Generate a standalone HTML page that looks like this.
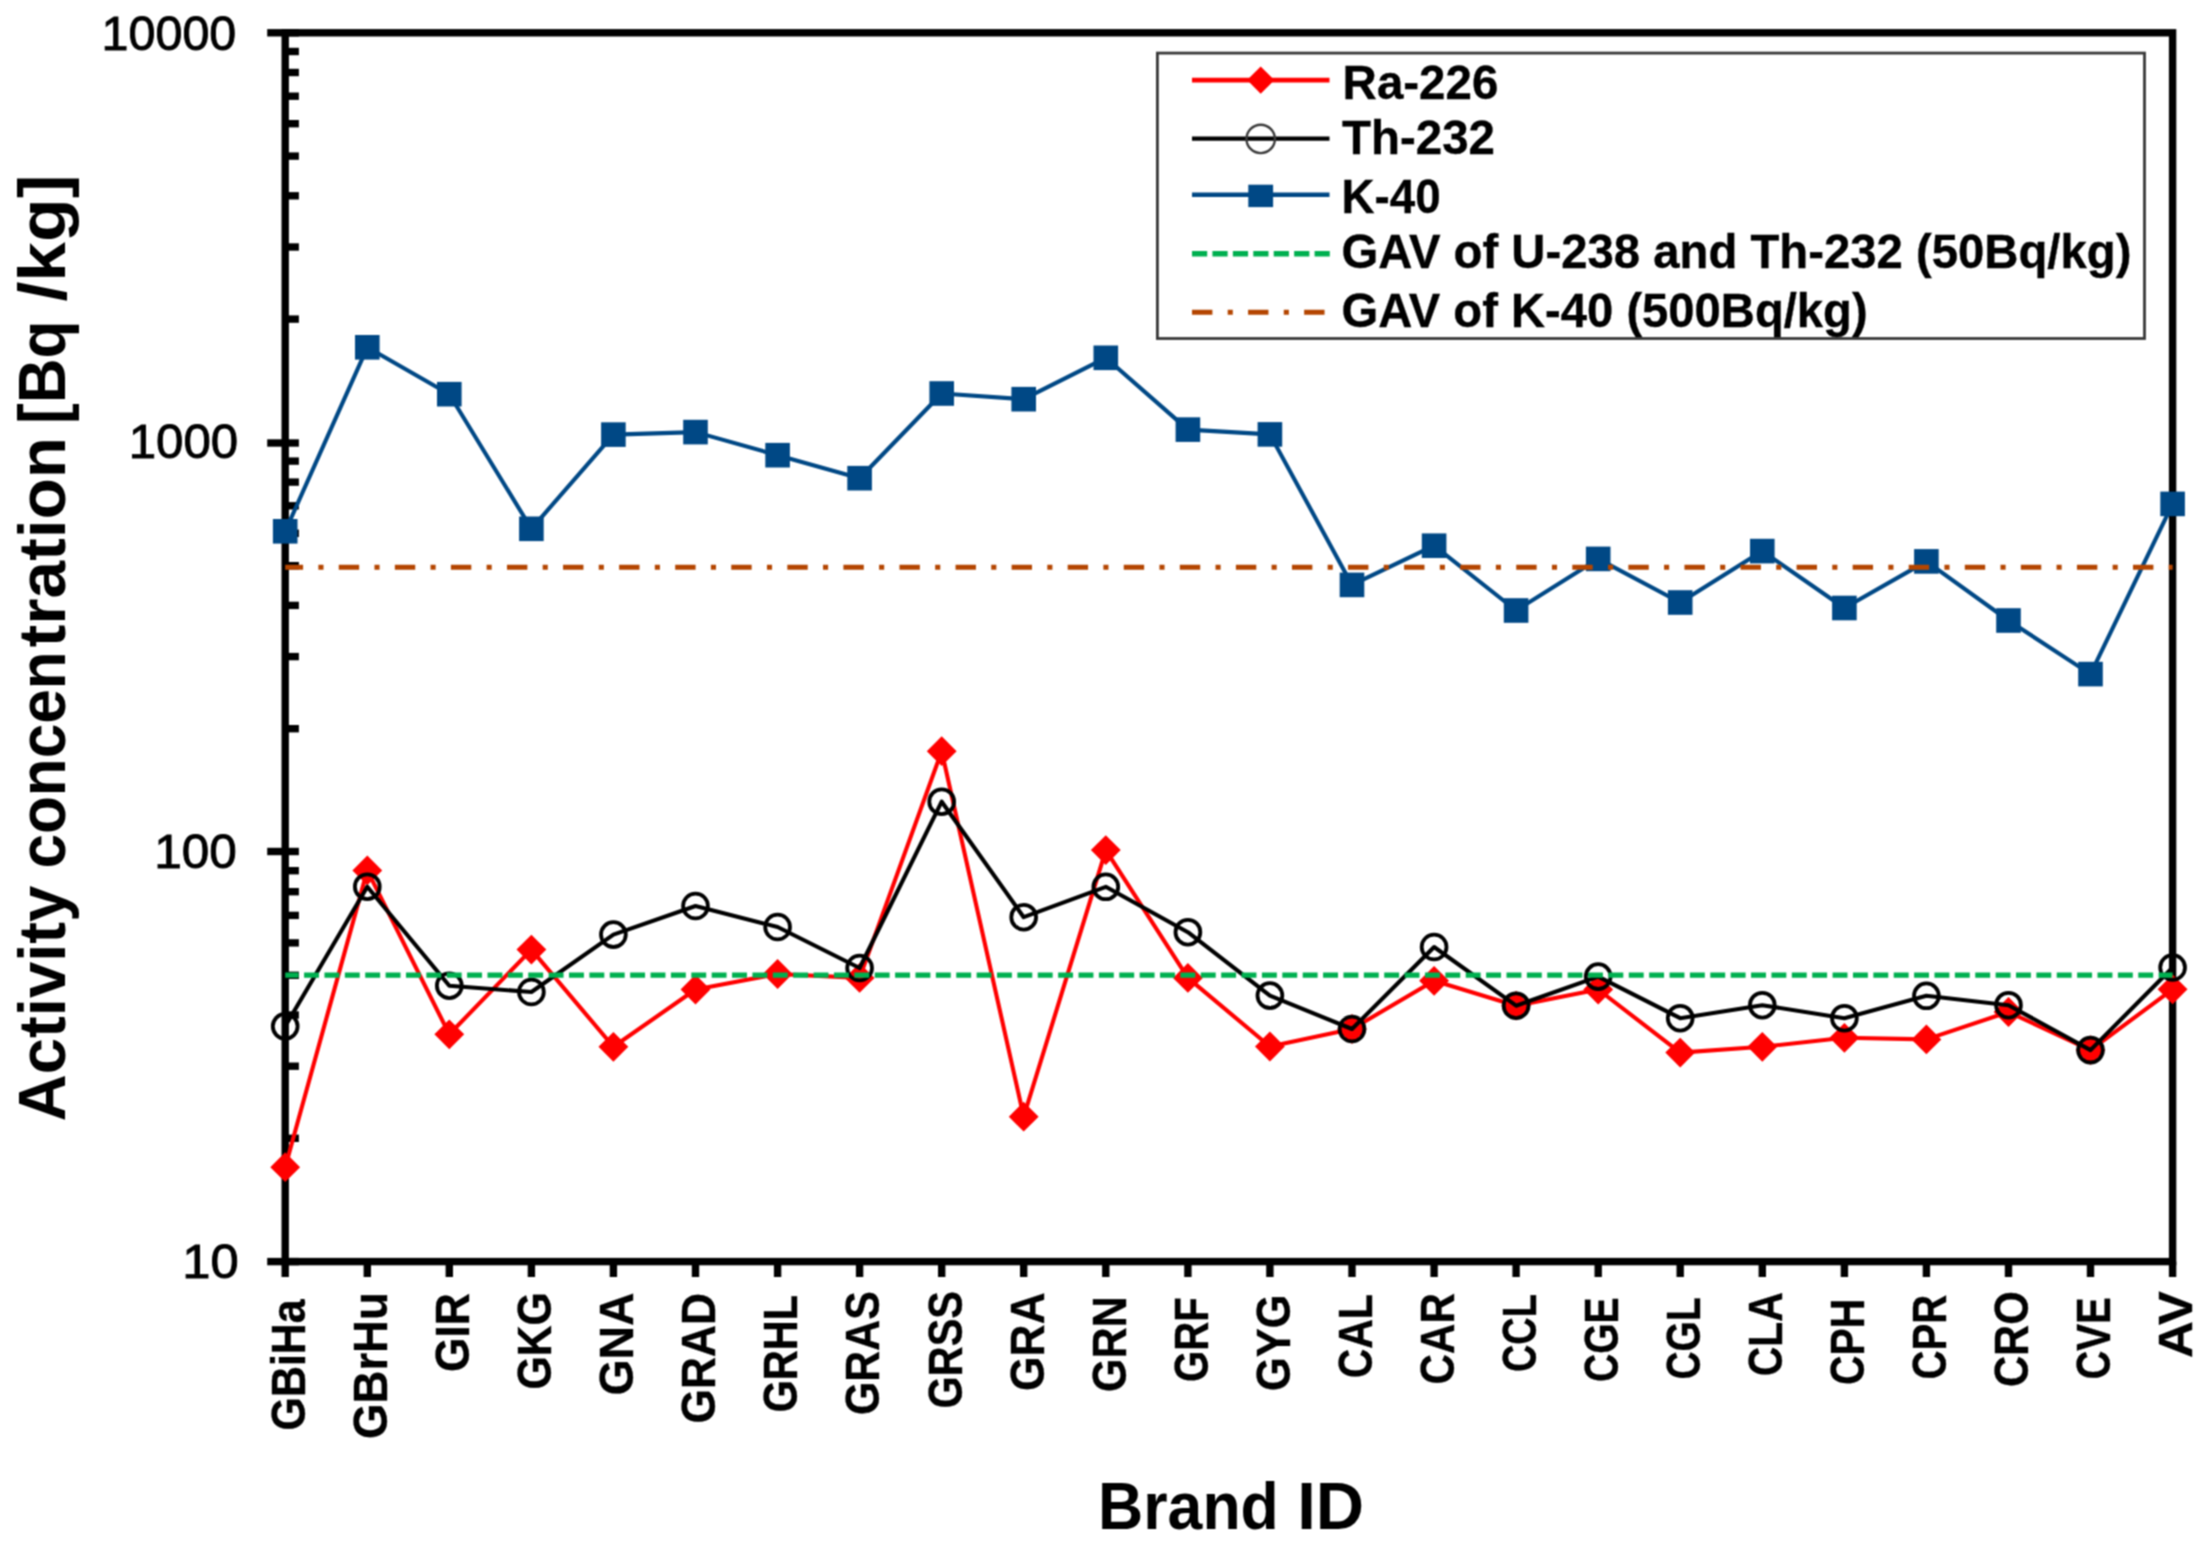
<!DOCTYPE html><html><head><meta charset="utf-8"><title>Activity concentration chart</title><style>html,body{margin:0;padding:0;background:#fff}svg{display:block}</style></head><body><svg width="2207" height="1546" viewBox="0 0 2207 1546">
<rect width="2207" height="1546" fill="#fff"/>
<defs><filter id="soft" x="0" y="0" width="2207" height="1546" filterUnits="userSpaceOnUse" color-interpolation-filters="sRGB"><feConvolveMatrix order="3" kernelMatrix="1 2 1 2 4 2 1 2 1" edgeMode="duplicate" preserveAlpha="true"/></filter></defs>
<g filter="url(#soft)">
<rect x="-20" y="-20" width="2247" height="1586" fill="#fff"/>
<g stroke="#000" stroke-width="7.4" fill="none" stroke-linecap="butt">
<rect x="285.2" y="32.8" width="1887.3999999999999" height="1228.8"/>
<path d="M267.2 1261.6H298.9"/>
<path d="M267.2 851.5H298.9"/>
<path d="M267.2 443.0H298.9"/>
<path d="M267.2 32.8H298.9"/>
<path d="M285.2 1138.3H298.9"/>
<path d="M285.2 1066.2H298.9"/>
<path d="M285.2 1015.0H298.9"/>
<path d="M285.2 975.3H298.9"/>
<path d="M285.2 942.9H298.9"/>
<path d="M285.2 915.4H298.9"/>
<path d="M285.2 891.7H298.9"/>
<path d="M285.2 870.7H298.9"/>
<path d="M285.2 728.7H298.9"/>
<path d="M285.2 656.6H298.9"/>
<path d="M285.2 605.4H298.9"/>
<path d="M285.2 565.7H298.9"/>
<path d="M285.2 533.3H298.9"/>
<path d="M285.2 505.8H298.9"/>
<path d="M285.2 482.1H298.9"/>
<path d="M285.2 461.1H298.9"/>
<path d="M285.2 319.1H298.9"/>
<path d="M285.2 247.0H298.9"/>
<path d="M285.2 195.8H298.9"/>
<path d="M285.2 156.1H298.9"/>
<path d="M285.2 123.7H298.9"/>
<path d="M285.2 96.2H298.9"/>
<path d="M285.2 72.5H298.9"/>
<path d="M285.2 51.5H298.9"/>
<path d="M285.2 1261.6V1277"/>
<path d="M367.3 1261.6V1277"/>
<path d="M449.3 1261.6V1277"/>
<path d="M531.4 1261.6V1277"/>
<path d="M613.4 1261.6V1277"/>
<path d="M695.5 1261.6V1277"/>
<path d="M777.6 1261.6V1277"/>
<path d="M859.6 1261.6V1277"/>
<path d="M941.7 1261.6V1277"/>
<path d="M1023.7 1261.6V1277"/>
<path d="M1105.8 1261.6V1277"/>
<path d="M1187.9 1261.6V1277"/>
<path d="M1269.9 1261.6V1277"/>
<path d="M1352.0 1261.6V1277"/>
<path d="M1434.1 1261.6V1277"/>
<path d="M1516.1 1261.6V1277"/>
<path d="M1598.2 1261.6V1277"/>
<path d="M1680.2 1261.6V1277"/>
<path d="M1762.3 1261.6V1277"/>
<path d="M1844.4 1261.6V1277"/>
<path d="M1926.4 1261.6V1277"/>
<path d="M2008.5 1261.6V1277"/>
<path d="M2090.5 1261.6V1277"/>
<path d="M2172.6 1261.6V1277"/>
</g>
<polyline points="285.2,1167.2 367.3,870.4 449.3,1034.3 531.4,949.6 613.4,1046.8 695.5,989.5 777.6,974.0 859.6,977.9 941.7,751.2 1023.7,1116.7 1105.8,850.1 1187.9,977.9 1269.9,1046.5 1352.0,1029.0 1434.1,980.8 1516.1,1005.7 1598.2,989.5 1680.2,1052.6 1762.3,1046.8 1844.4,1037.8 1926.4,1039.4 2008.5,1012.0 2090.5,1050.1 2172.6,989.3" fill="none" stroke="#ff0000" stroke-width="4.1" stroke-linejoin="round"/>
<g fill="#ff0000"><path d="M285.2 1152.3l14.9 14.9l-14.9 14.9l-14.9 -14.9z"/><path d="M367.3 855.5l14.9 14.9l-14.9 14.9l-14.9 -14.9z"/><path d="M449.3 1019.4l14.9 14.9l-14.9 14.9l-14.9 -14.9z"/><path d="M531.4 934.7l14.9 14.9l-14.9 14.9l-14.9 -14.9z"/><path d="M613.4 1031.9l14.9 14.9l-14.9 14.9l-14.9 -14.9z"/><path d="M695.5 974.6l14.9 14.9l-14.9 14.9l-14.9 -14.9z"/><path d="M777.6 959.1l14.9 14.9l-14.9 14.9l-14.9 -14.9z"/><path d="M859.6 963.0l14.9 14.9l-14.9 14.9l-14.9 -14.9z"/><path d="M941.7 736.3l14.9 14.9l-14.9 14.9l-14.9 -14.9z"/><path d="M1023.7 1101.8l14.9 14.9l-14.9 14.9l-14.9 -14.9z"/><path d="M1105.8 835.2l14.9 14.9l-14.9 14.9l-14.9 -14.9z"/><path d="M1187.9 963.0l14.9 14.9l-14.9 14.9l-14.9 -14.9z"/><path d="M1269.9 1031.6l14.9 14.9l-14.9 14.9l-14.9 -14.9z"/><path d="M1352.0 1014.1l14.9 14.9l-14.9 14.9l-14.9 -14.9z"/><path d="M1434.1 965.9l14.9 14.9l-14.9 14.9l-14.9 -14.9z"/><path d="M1516.1 990.8l14.9 14.9l-14.9 14.9l-14.9 -14.9z"/><path d="M1598.2 974.6l14.9 14.9l-14.9 14.9l-14.9 -14.9z"/><path d="M1680.2 1037.7l14.9 14.9l-14.9 14.9l-14.9 -14.9z"/><path d="M1762.3 1031.9l14.9 14.9l-14.9 14.9l-14.9 -14.9z"/><path d="M1844.4 1022.9l14.9 14.9l-14.9 14.9l-14.9 -14.9z"/><path d="M1926.4 1024.5l14.9 14.9l-14.9 14.9l-14.9 -14.9z"/><path d="M2008.5 997.1l14.9 14.9l-14.9 14.9l-14.9 -14.9z"/><path d="M2090.5 1035.2l14.9 14.9l-14.9 14.9l-14.9 -14.9z"/><path d="M2172.6 974.4l14.9 14.9l-14.9 14.9l-14.9 -14.9z"/></g>
<polyline points="285.2,1026.3 367.3,886.7 449.3,985.7 531.4,992.0 613.4,934.6 695.5,906.0 777.6,927.0 859.6,968.0 941.7,801.7 1023.7,917.2 1105.8,886.8 1187.9,932.2 1269.9,995.6 1352.0,1029.0 1434.1,947.0 1516.1,1005.7 1598.2,976.6 1680.2,1018.2 1762.3,1005.2 1844.4,1018.2 1926.4,995.8 2008.5,1005.2 2090.5,1050.1 2172.6,967.5" fill="none" stroke="#000" stroke-width="4.1" stroke-linejoin="round"/>
<g fill="none" stroke="#000" stroke-width="3.8"><circle cx="285.2" cy="1026.3" r="12.4"/><circle cx="367.3" cy="886.7" r="12.4"/><circle cx="449.3" cy="985.7" r="12.4"/><circle cx="531.4" cy="992.0" r="12.4"/><circle cx="613.4" cy="934.6" r="12.4"/><circle cx="695.5" cy="906.0" r="12.4"/><circle cx="777.6" cy="927.0" r="12.4"/><circle cx="859.6" cy="968.0" r="12.4"/><circle cx="941.7" cy="801.7" r="12.4"/><circle cx="1023.7" cy="917.2" r="12.4"/><circle cx="1105.8" cy="886.8" r="12.4"/><circle cx="1187.9" cy="932.2" r="12.4"/><circle cx="1269.9" cy="995.6" r="12.4"/><circle cx="1352.0" cy="1029.0" r="12.4"/><circle cx="1434.1" cy="947.0" r="12.4"/><circle cx="1516.1" cy="1005.7" r="12.4"/><circle cx="1598.2" cy="976.6" r="12.4"/><circle cx="1680.2" cy="1018.2" r="12.4"/><circle cx="1762.3" cy="1005.2" r="12.4"/><circle cx="1844.4" cy="1018.2" r="12.4"/><circle cx="1926.4" cy="995.8" r="12.4"/><circle cx="2008.5" cy="1005.2" r="12.4"/><circle cx="2090.5" cy="1050.1" r="12.4"/><circle cx="2172.6" cy="967.5" r="12.4"/></g>
<polyline points="285.2,531.3 367.3,347.3 449.3,394.2 531.4,528.8 613.4,434.6 695.5,432.1 777.6,455.2 859.6,478.2 941.7,393.5 1023.7,399.2 1105.8,357.8 1187.9,429.6 1269.9,434.4 1352.0,584.9 1434.1,545.7 1516.1,610.5 1598.2,558.9 1680.2,602.5 1762.3,551.1 1844.4,608.0 1926.4,561.4 2008.5,620.5 2090.5,674.1 2172.6,503.9" fill="none" stroke="#004885" stroke-width="4.1" stroke-linejoin="round"/>
<g fill="#004885"><rect x="272.9" y="519.0" width="24.6" height="24.6"/><rect x="355.0" y="335.0" width="24.6" height="24.6"/><rect x="437.0" y="381.9" width="24.6" height="24.6"/><rect x="519.1" y="516.5" width="24.6" height="24.6"/><rect x="601.1" y="422.3" width="24.6" height="24.6"/><rect x="683.2" y="419.8" width="24.6" height="24.6"/><rect x="765.3" y="442.9" width="24.6" height="24.6"/><rect x="847.3" y="465.9" width="24.6" height="24.6"/><rect x="929.4" y="381.2" width="24.6" height="24.6"/><rect x="1011.4" y="386.9" width="24.6" height="24.6"/><rect x="1093.5" y="345.5" width="24.6" height="24.6"/><rect x="1175.6" y="417.3" width="24.6" height="24.6"/><rect x="1257.6" y="422.1" width="24.6" height="24.6"/><rect x="1339.7" y="572.6" width="24.6" height="24.6"/><rect x="1421.8" y="533.4" width="24.6" height="24.6"/><rect x="1503.8" y="598.2" width="24.6" height="24.6"/><rect x="1585.9" y="546.6" width="24.6" height="24.6"/><rect x="1667.9" y="590.2" width="24.6" height="24.6"/><rect x="1750.0" y="538.8" width="24.6" height="24.6"/><rect x="1832.1" y="595.7" width="24.6" height="24.6"/><rect x="1914.1" y="549.1" width="24.6" height="24.6"/><rect x="1996.2" y="608.2" width="24.6" height="24.6"/><rect x="2078.2" y="661.8" width="24.6" height="24.6"/><rect x="2160.3" y="491.6" width="24.6" height="24.6"/></g>
<path d="M285.2 975.1H2172.6" stroke="#00b050" stroke-width="5.2" stroke-dasharray="14.9 5.48" stroke-dashoffset="1.5" fill="none"/>
<path d="M285.2 567.3H2172.6" stroke="#b44500" stroke-width="5.1" stroke-dasharray="20.4 15.3 5.1 15.27" stroke-dashoffset="2.5" fill="none"/>
<rect x="1157.4" y="53.1" width="987.1" height="285.4" fill="#fff" stroke="#383838" stroke-width="2.8"/>
<path d="M1192 80.1H1329.5" stroke="#ff0000" stroke-width="4.7"/>
<path d="M1260.7 66.5l13.6 13.6l-13.6 13.6l-13.6 -13.6z" fill="#ff0000"/>
<path d="M1192 138.7H1329.5" stroke="#000" stroke-width="4.2"/>
<circle cx="1260.7" cy="138.89999999999998" r="14.2" fill="none" stroke="#3a3a3a" stroke-width="2.4"/>
<path d="M1192 194.7H1329.5" stroke="#004885" stroke-width="4.4"/>
<rect x="1248.3" y="184.7" width="24.8" height="22.4" fill="#004885"/>
<path d="M1192 253.7H1330" stroke="#00b050" stroke-width="5.4" stroke-dasharray="15.2 5.23"/>
<path d="M1192 312.2H1325.3" stroke="#b44500" stroke-width="5.1" stroke-dasharray="20.4 15.3 5.1 15.27"/>
<text x="1342.60" y="98.5" font-size="47.5" font-family="'Liberation Sans', sans-serif" font-weight="bold" stroke="#000" stroke-width="0.35" textLength="155.70" lengthAdjust="spacingAndGlyphs">Ra-226</text>
<text x="1342.00" y="154.3" font-size="47.5" font-family="'Liberation Sans', sans-serif" font-weight="bold" stroke="#000" stroke-width="0.35" textLength="152.90" lengthAdjust="spacingAndGlyphs">Th-232</text>
<text x="1341.50" y="212.6" font-size="47.5" font-family="'Liberation Sans', sans-serif" font-weight="bold" stroke="#000" stroke-width="0.35" textLength="99.10" lengthAdjust="spacingAndGlyphs">K-40</text>
<text x="1341.50" y="268.2" font-size="47.5" font-family="'Liberation Sans', sans-serif" font-weight="bold" stroke="#000" stroke-width="0.35" textLength="789.90" lengthAdjust="spacingAndGlyphs">GAV of U-238 and Th-232 (50Bq/kg)</text>
<text x="1341.50" y="327.4" font-size="47.5" font-family="'Liberation Sans', sans-serif" font-weight="bold" stroke="#000" stroke-width="0.35" textLength="526.10" lengthAdjust="spacingAndGlyphs">GAV of K-40 (500Bq/kg)</text>
<text x="101.60" y="49.7" font-size="47.5" font-family="'Liberation Sans', sans-serif" stroke="#000" stroke-width="0.9" textLength="134.70" lengthAdjust="spacingAndGlyphs">10000</text>
<text x="128.70" y="457.7" font-size="47.5" font-family="'Liberation Sans', sans-serif" stroke="#000" stroke-width="0.9" textLength="109.50" lengthAdjust="spacingAndGlyphs">1000</text>
<text x="154.20" y="868.0" font-size="47.5" font-family="'Liberation Sans', sans-serif" stroke="#000" stroke-width="0.9" textLength="82.60" lengthAdjust="spacingAndGlyphs">100</text>
<text x="182.30" y="1278.2" font-size="47.5" font-family="'Liberation Sans', sans-serif" stroke="#000" stroke-width="0.9" textLength="56.40" lengthAdjust="spacingAndGlyphs">10</text>
<text transform="translate(305.0 1430.50) rotate(-90)" font-size="47.5" font-family="'Liberation Sans', sans-serif" font-weight="bold" stroke="#000" stroke-width="0.35" textLength="131.20" lengthAdjust="spacingAndGlyphs">GBiHa</text>
<text transform="translate(387.1 1439.00) rotate(-90)" font-size="47.5" font-family="'Liberation Sans', sans-serif" font-weight="bold" stroke="#000" stroke-width="0.35" textLength="146.90" lengthAdjust="spacingAndGlyphs">GBrHu</text>
<text transform="translate(469.1 1372.10) rotate(-90)" font-size="47.5" font-family="'Liberation Sans', sans-serif" font-weight="bold" stroke="#000" stroke-width="0.35" textLength="79.00" lengthAdjust="spacingAndGlyphs">GIR</text>
<text transform="translate(551.2 1389.60) rotate(-90)" font-size="47.5" font-family="'Liberation Sans', sans-serif" font-weight="bold" stroke="#000" stroke-width="0.35" textLength="97.50" lengthAdjust="spacingAndGlyphs">GKG</text>
<text transform="translate(633.2 1395.60) rotate(-90)" font-size="47.5" font-family="'Liberation Sans', sans-serif" font-weight="bold" stroke="#000" stroke-width="0.35" textLength="103.30" lengthAdjust="spacingAndGlyphs">GNA</text>
<text transform="translate(715.3 1423.50) rotate(-90)" font-size="47.5" font-family="'Liberation Sans', sans-serif" font-weight="bold" stroke="#000" stroke-width="0.35" textLength="130.40" lengthAdjust="spacingAndGlyphs">GRAD</text>
<text transform="translate(797.4 1412.60) rotate(-90)" font-size="47.5" font-family="'Liberation Sans', sans-serif" font-weight="bold" stroke="#000" stroke-width="0.35" textLength="117.80" lengthAdjust="spacingAndGlyphs">GRHL</text>
<text transform="translate(879.4 1415.00) rotate(-90)" font-size="47.5" font-family="'Liberation Sans', sans-serif" font-weight="bold" stroke="#000" stroke-width="0.35" textLength="123.90" lengthAdjust="spacingAndGlyphs">GRAS</text>
<text transform="translate(961.5 1408.40) rotate(-90)" font-size="47.5" font-family="'Liberation Sans', sans-serif" font-weight="bold" stroke="#000" stroke-width="0.35" textLength="117.30" lengthAdjust="spacingAndGlyphs">GRSS</text>
<text transform="translate(1043.5 1390.90) rotate(-90)" font-size="47.5" font-family="'Liberation Sans', sans-serif" font-weight="bold" stroke="#000" stroke-width="0.35" textLength="98.60" lengthAdjust="spacingAndGlyphs">GRA</text>
<text transform="translate(1125.6 1392.10) rotate(-90)" font-size="47.5" font-family="'Liberation Sans', sans-serif" font-weight="bold" stroke="#000" stroke-width="0.35" textLength="95.80" lengthAdjust="spacingAndGlyphs">GRN</text>
<text transform="translate(1207.7 1382.10) rotate(-90)" font-size="47.5" font-family="'Liberation Sans', sans-serif" font-weight="bold" stroke="#000" stroke-width="0.35" textLength="84.80" lengthAdjust="spacingAndGlyphs">GRF</text>
<text transform="translate(1289.7 1390.90) rotate(-90)" font-size="47.5" font-family="'Liberation Sans', sans-serif" font-weight="bold" stroke="#000" stroke-width="0.35" textLength="96.30" lengthAdjust="spacingAndGlyphs">GYG</text>
<text transform="translate(1371.8 1378.30) rotate(-90)" font-size="47.5" font-family="'Liberation Sans', sans-serif" font-weight="bold" stroke="#000" stroke-width="0.35" textLength="84.20" lengthAdjust="spacingAndGlyphs">CAL</text>
<text transform="translate(1453.9 1384.60) rotate(-90)" font-size="47.5" font-family="'Liberation Sans', sans-serif" font-weight="bold" stroke="#000" stroke-width="0.35" textLength="91.50" lengthAdjust="spacingAndGlyphs">CAR</text>
<text transform="translate(1535.9 1372.10) rotate(-90)" font-size="47.5" font-family="'Liberation Sans', sans-serif" font-weight="bold" stroke="#000" stroke-width="0.35" textLength="78.00" lengthAdjust="spacingAndGlyphs">CCL</text>
<text transform="translate(1618.0 1382.10) rotate(-90)" font-size="47.5" font-family="'Liberation Sans', sans-serif" font-weight="bold" stroke="#000" stroke-width="0.35" textLength="84.80" lengthAdjust="spacingAndGlyphs">CGE</text>
<text transform="translate(1700.0 1379.60) rotate(-90)" font-size="47.5" font-family="'Liberation Sans', sans-serif" font-weight="bold" stroke="#000" stroke-width="0.35" textLength="82.30" lengthAdjust="spacingAndGlyphs">CGL</text>
<text transform="translate(1782.1 1376.30) rotate(-90)" font-size="47.5" font-family="'Liberation Sans', sans-serif" font-weight="bold" stroke="#000" stroke-width="0.35" textLength="84.00" lengthAdjust="spacingAndGlyphs">CLA</text>
<text transform="translate(1864.2 1385.00) rotate(-90)" font-size="47.5" font-family="'Liberation Sans', sans-serif" font-weight="bold" stroke="#000" stroke-width="0.35" textLength="86.20" lengthAdjust="spacingAndGlyphs">CPH</text>
<text transform="translate(1946.2 1379.60) rotate(-90)" font-size="47.5" font-family="'Liberation Sans', sans-serif" font-weight="bold" stroke="#000" stroke-width="0.35" textLength="84.80" lengthAdjust="spacingAndGlyphs">CPR</text>
<text transform="translate(2028.3 1387.10) rotate(-90)" font-size="47.5" font-family="'Liberation Sans', sans-serif" font-weight="bold" stroke="#000" stroke-width="0.35" textLength="96.00" lengthAdjust="spacingAndGlyphs">CRO</text>
<text transform="translate(2110.3 1379.60) rotate(-90)" font-size="47.5" font-family="'Liberation Sans', sans-serif" font-weight="bold" stroke="#000" stroke-width="0.35" textLength="82.30" lengthAdjust="spacingAndGlyphs">CVE</text>
<text transform="translate(2192.4 1358.00) rotate(-90)" font-size="47.5" font-family="'Liberation Sans', sans-serif" font-weight="bold" stroke="#000" stroke-width="0.35" textLength="66.90" lengthAdjust="spacingAndGlyphs">AV</text>
<text y="1528.5" font-size="67.5" font-family="'Liberation Sans', sans-serif" font-weight="bold"><tspan x="1098.10" textLength="180.70" lengthAdjust="spacingAndGlyphs">Brand</tspan><tspan> </tspan><tspan x="1297.20" textLength="66.90" lengthAdjust="spacingAndGlyphs">ID</tspan></text>
<text transform="translate(64.7 0) rotate(-90)" y="0" font-size="67.5" font-family="'Liberation Sans', sans-serif" font-weight="bold"><tspan x="-1121.40" textLength="235.80" lengthAdjust="spacingAndGlyphs">Activity</tspan><tspan> </tspan><tspan x="-868.60" textLength="217.20" lengthAdjust="spacingAndGlyphs">concen</tspan><tspan x="-647.20" textLength="210.20" lengthAdjust="spacingAndGlyphs">tration</tspan><tspan> </tspan><tspan x="-424.00" textLength="103.60" lengthAdjust="spacingAndGlyphs">[Bq</tspan><tspan> </tspan><tspan x="-301.60" textLength="127.10" lengthAdjust="spacingAndGlyphs">/kg]</tspan></text>
</g>
</svg></body></html>
